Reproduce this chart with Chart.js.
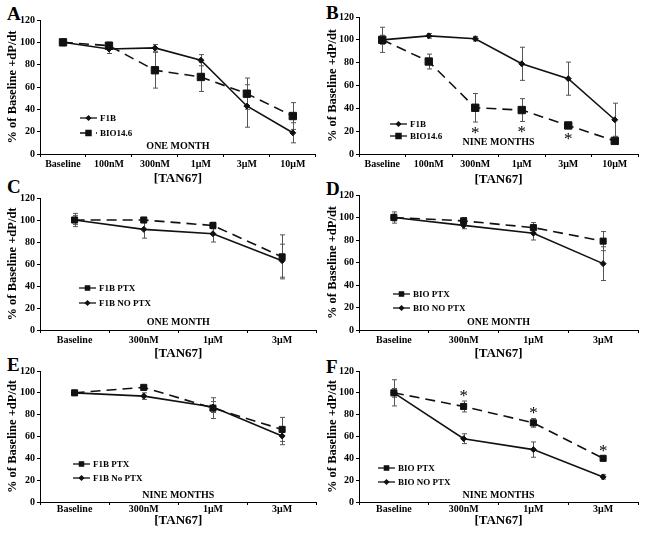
<!DOCTYPE html>
<html>
<head>
<meta charset="utf-8">
<script src="https://cdn.jsdelivr.net/npm/chart.js@4.4.1/dist/chart.umd.min.js"></script>
<style>
  body { margin: 0; background: #fff; width: 645px; height: 541px; position: relative; overflow: hidden; }
  canvas { position: absolute; }
  .tag { position: absolute; font-family: "Liberation Serif", serif; font-weight: bold; font-size: 19px; line-height: 19px; color: #000; }
</style>
</head>
<body>
<div class="tag" style="left:7px;top:4px">A</div>
<div class="tag" style="left:326px;top:3px">B</div>
<div class="tag" style="left:7px;top:177px">C</div>
<div class="tag" style="left:326px;top:179px">D</div>
<div class="tag" style="left:7px;top:355px">E</div>
<div class="tag" style="left:326px;top:357px">F</div>
<canvas id="pA"></canvas>
<canvas id="pB"></canvas>
<canvas id="pC"></canvas>
<canvas id="pD"></canvas>
<canvas id="pE"></canvas>
<canvas id="pF"></canvas>
<script>
// doses
const dosesSix = ["Baseline", "100nM", "300nM", "1μM", "3μM", "10μM"];
const dosesFour = ["Baseline", "300nM", "1μM", "3μM"];
const yTitle = "% of Baseline +dP/dt";
const xTitle = "[TAN67]";

// A - one month
const aF1B = [100, 94, 95, 84, 43, 19];
const aF1BErr = [3, 4, 3, 5, 19, 9];
const aBIO = [100, 97, 75, 69, 54, 34];
const aBIOErr = [2, 3, 16, 13, 14, 12];

// B - nine months
const bF1B = [100, 103.5, 101, 79, 66, 30];
const bF1BErr = [11, 2, 2, 14.5, 14.5, 14.5];
const bBIO = [100, 81, 40.5, 38.5, 25, 11.5];
const bBIOErr = [4, 6.5, 12.5, 10, 2, 2];
const bBIOStars = [0, 0, 1, 1, 1, 0];

// C - F1B one month
const cPTX = [100, 100, 95, 66.5];
const cPTXErr = [6, 2, 3, 20];
const cNoPTX = [100, 91.5, 87.5, 63];
const cNoPTXErr = [4, 8, 7.5, 15];

// D - BIO one month
const dPTX = [100, 97, 91, 79];
const dPTXErr = [5, 3, 4.5, 8.5];
const dNoPTX = [100, 93, 86, 59];
const dNoPTXErr = [3, 3, 6, 15];

// E - F1B nine months
const ePTX = [100, 105, 86, 66.5];
const ePTXErr = [2, 1, 9.5, 11];
const eNoPTX = [100, 97, 87, 60.5];
const eNoPTXErr = [2, 3, 5, 8];

// F - BIO nine months
const fPTX = [100, 87.5, 72.5, 40];
const fPTXErr = [12, 5, 4, 2];
const fNoPTX = [100, 58, 48, 23];
const fNoPTXErr = [4, 4.5, 7, 2];
const fPTXStars = [0, 1, 1, 1];

const SERIF = "'Liberation Serif', 'Times New Roman', serif";

// error bars, legend, period label, asterisks
const notes = {
  id: "notes",
  beforeDatasetsDraw(chart) {
    const ctx = chart.ctx, y = chart.scales.y;
    ctx.save();
    ctx.strokeStyle = "#555";
    ctx.lineWidth = 1;
    chart.data.datasets.forEach((ds, i) => {
      const meta = chart.getDatasetMeta(i);
      ds.data.forEach((v, j) => {
        const x = Math.round(meta.data[j].x) + 0.5;
        const y1 = y.getPixelForValue(v + ds.err[j]);
        const y2 = y.getPixelForValue(v - ds.err[j]);
        ctx.beginPath();
        ctx.moveTo(x, y1); ctx.lineTo(x, y2);
        ctx.moveTo(x - 2.5, y1); ctx.lineTo(x + 2.5, y1);
        ctx.moveTo(x - 2.5, y2); ctx.lineTo(x + 2.5, y2);
        ctx.stroke();
      });
    });
    ctx.restore();
  },
  afterDatasetsDraw(chart, args, o) {
    const ctx = chart.ctx, a = chart.chartArea, y = chart.scales.y;
    ctx.save();
    ctx.fillStyle = "#000";
    ctx.textBaseline = "middle";

    ctx.font = "bold 10px " + SERIF;
    ctx.textAlign = "center";
    ctx.fillText(o.period, (a.left + a.right) / 2, a.bottom - o.periodUp);

    // legend
    ctx.font = "bold 9px " + SERIF;
    ctx.textAlign = "left";
    chart.data.datasets.forEach((ds, k) => {
      const yy = a.bottom - o.legY[k];
      const x0 = a.left + o.legX;
      ctx.strokeStyle = "#111";
      ctx.lineWidth = 1.3;
      ctx.setLineDash(o.legDash ? ds.borderDash : []);
      ctx.beginPath();
      ctx.moveTo(x0, yy); ctx.lineTo(x0 + 17, yy);
      ctx.stroke();
      ctx.setLineDash([]);
      ctx.fillStyle = "#111";
      Chart.helpers.drawPoint(ctx, { pointStyle: ds.pointStyle, radius: ds.pointRadius * 0.7, rotation: 0, borderWidth: 1 }, x0 + 8.5, yy);
      ctx.fillStyle = "#000";
      ctx.fillText(ds.label, x0 + 20, yy + 0.5);
    });

    // asterisks
    ctx.font = "17px " + SERIF;
    ctx.textAlign = "center";
    ctx.textBaseline = "alphabetic";
    chart.data.datasets.forEach((ds, i) => {
      if (!ds.stars) return;
      const meta = chart.getDatasetMeta(i);
      ds.stars.forEach((s, j) => {
        if (!s) return;
        const x = meta.data[j].x;
        let cy;
        if (o.starSide === "below") cy = y.getPixelForValue(ds.data[j] - ds.err[j]) + 8;
        else cy = y.getPixelForValue(ds.data[j] + ds.err[j]) - 8;
        ctx.fillText("*", x, cy + 8);
      });
    });
    ctx.restore();
  }
};

function series(label, data, err, dashed, big, stars) {
  return {
    label, data, err, stars,
    borderColor: "#111",
    backgroundColor: "#111",
    borderWidth: 1.6,
    borderDash: dashed ? [10, 6] : [],
    pointStyle: dashed ? "rect" : "rectRot",
    pointRadius: dashed ? (big ? 5.2 : 4.3) : 3,
    pointBackgroundColor: "#111",
    pointBorderColor: "#111",
    pointBorderWidth: 1,
    tension: 0,
    clip: false
  };
}

function panel(id, o) {
  const cv = document.getElementById(id);
  const top = o.y120 - 20;
  const h = Math.round(o.titleY + 9 - top);
  cv.width = o.w;
  cv.height = h;
  cv.style.left = o.left + "px";
  cv.style.top = top + "px";
  const tickFont = { family: SERIF, size: 10, weight: "bold" };
  new Chart(cv, {
    type: "line",
    data: { labels: o.labels, datasets: o.sets },
    options: {
      responsive: false,
      animation: false,
      layout: { padding: { top: 20, left: 0, right: o.left + o.w - o.xr, bottom: 0 } },
      plugins: {
        legend: { display: false },
        tooltip: { enabled: false },
        notes: o
      },
      scales: {
        x: {
          offset: true,
          grid: { offset: true, drawOnChartArea: false, tickLength: 3, color: "#000" },
          border: { color: "#000", width: 1 },
          ticks: { color: "#000", font: tickFont, padding: o.tickPad, maxRotation: 0, autoSkip: false },
          title: { display: true, text: xTitle, color: "#000", font: { family: SERIF, size: 13, weight: "bold", lineHeight: 1 }, padding: { top: 0, bottom: 2 } },
          afterFit: s => { s.height = h - (o.y0 - top); }
        },
        y: {
          min: 0, max: 120,
          grid: { drawOnChartArea: false, tickLength: 3, color: "#000" },
          border: { color: "#000", width: 1 },
          ticks: { stepSize: 20, color: "#000", font: { family: SERIF, size: 10, weight: "bold" }, padding: 2 },
          title: { display: true, text: yTitle, color: "#000", font: { family: SERIF, size: 12.5, weight: "bold", lineHeight: 1 }, padding: { top: o.left ? 5 : 7, bottom: 0 } },
          afterFit: s => { s.width = o.xl - o.left; }
        }
      }
    },
    plugins: [notes]
  });
}

panel("pA", {
  left: 0, w: 322, xl: 40, xr: 318, y120: 20, y0: 154, titleY: 178, tickPad: 1,
  labels: dosesSix, period: "ONE MONTH", periodUp: 8, legX: 40, legY: [36, 21], legDash: true,
  sets: [series("F1B", aF1B, aF1BErr, false, true), series("BIO14.6", aBIO, aBIOErr, true, true)]
});
panel("pB", {
  left: 322, w: 323, xl: 359, xr: 638, y120: 17, y0: 154, titleY: 179, tickPad: 1,
  labels: dosesSix, period: "NINE MONTHS", periodUp: 12, legX: 31, legY: [30, 18], starSide: "below",
  sets: [series("F1B", bF1B, bF1BErr, false, true), series("BIO14.6", bBIO, bBIOErr, true, true, bBIOStars)]
});
panel("pC", {
  left: 0, w: 322, xl: 40, xr: 318, y120: 198, y0: 330, titleY: 353, tickPad: 1,
  labels: dosesFour, period: "ONE MONTH", periodUp: 8, legX: 39, legY: [42, 27],
  sets: [series("F1B PTX", cPTX, cPTXErr, true, false), series("F1B NO PTX", cNoPTX, cNoPTXErr, false, false)]
});
panel("pD", {
  left: 322, w: 323, xl: 359, xr: 638, y120: 195, y0: 330, titleY: 353, tickPad: 1,
  labels: dosesFour, period: "ONE MONTH", periodUp: 8, legX: 34, legY: [36, 22],
  sets: [series("BIO PTX", dPTX, dPTXErr, true, false), series("BIO NO PTX", dNoPTX, dNoPTXErr, false, false)]
});
panel("pE", {
  left: 0, w: 322, xl: 40, xr: 318, y120: 371, y0: 502, titleY: 520, tickPad: -2,
  labels: dosesFour, period: "NINE MONTHS", periodUp: 7, legX: 33, legY: [38, 24],
  sets: [series("F1B PTX", ePTX, ePTXErr, true, false), series("F1B No PTX", eNoPTX, eNoPTXErr, false, false)]
});
panel("pF", {
  left: 322, w: 323, xl: 359, xr: 638, y120: 371, y0: 502, titleY: 520, tickPad: -2,
  labels: dosesFour, period: "NINE MONTHS", periodUp: 7, legX: 19, legY: [34, 20], starSide: "above",
  sets: [series("BIO PTX", fPTX, fPTXErr, true, false, fPTXStars), series("BIO NO PTX", fNoPTX, fNoPTXErr, false, false)]
});
</script>
</body>
</html>
